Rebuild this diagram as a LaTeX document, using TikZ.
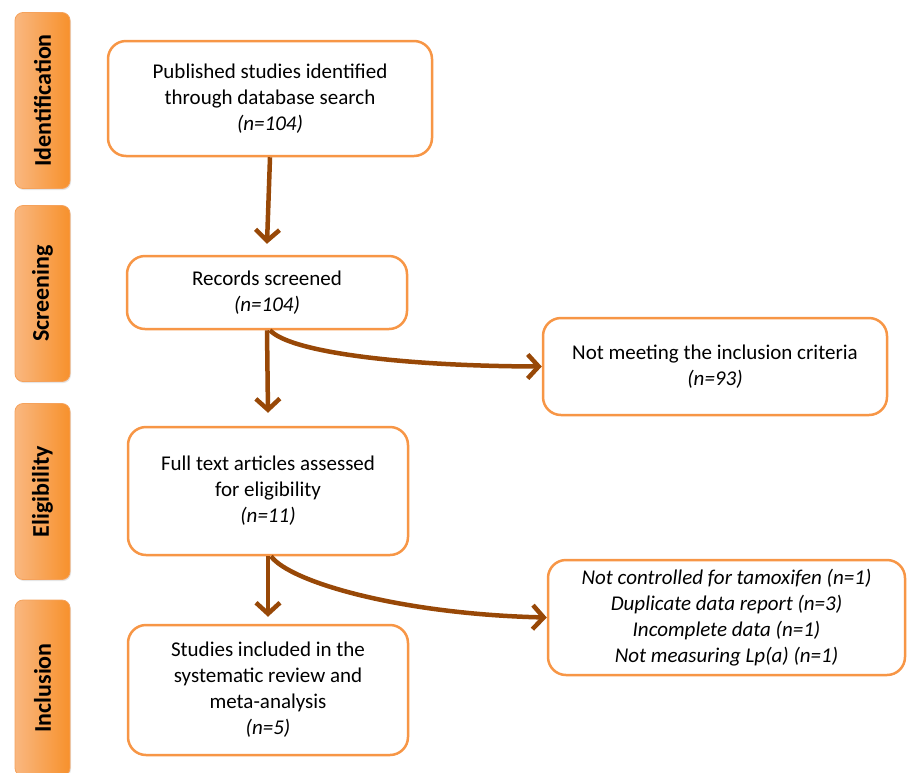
\documentclass[tikz,border=0pt]{standalone}
\usepackage{fontspec}
\setmainfont{Carlito}
\usetikzlibrary{arrows.meta,shadows}
\definecolor{boxor}{HTML}{F79646}
\definecolor{arrbr}{HTML}{984807}
\definecolor{barl}{HTML}{F9B780}
\definecolor{barr}{HTML}{F7912C}
\definecolor{barline}{HTML}{F5A25C}
\begin{document}
\begin{tikzpicture}[x=1pt,y=-1pt,
  flowbox/.style={draw=boxor, line width=2.5pt, rounded corners=18pt, fill=white,
    align=center, font=\fontsize{21}{26}\selectfont, text=black, inner sep=0pt},
  phase/.style={draw=barline, line width=0.8pt, rounded corners=8pt,
    left color=barl, right color=barr, minimum width=55pt, minimum height=176pt,
    inner sep=0pt, drop shadow={opacity=0.2, shadow xshift=1pt, shadow yshift=-1.5pt}},
  phasetext/.style={rotate=90, font=\fontsize{24}{26}\bfseries\selectfont, text=black},
  flow/.style={draw=arrbr, line width=4.5pt,
    -{Straight Barb[length=11pt,width=24pt,line width=4.5pt]}}
]
\useasboundingbox (0,0) rectangle (912,772);

% phase bars
\node[phase] (p1) at (42.5,100.5) {};
\node[phasetext] (t1) at (p1) {Identification};
\node[phase] (p2) at (42.5,293.5) {};
\node[phasetext] (t2) at (p2) {Screening};
\node[phase] (p3) at (42.5,491.5) {};
\node[phasetext] (t3) at (p3) {Eligibility};
\node[phase] (p4) at (42.5,688) {};
\node[phasetext] (t4) at (p4) {Inclusion};

% boxes
\node[flowbox, minimum width=324pt, minimum height=115pt] (b1) at (270,98.5)
  {Published studies identified\\through database search\\\textit{(n=104)}};
\node[flowbox, minimum width=280pt, minimum height=73pt] (b2) at (267,292.5)
  {Records screened\\\textit{(n=104)}};
\node[flowbox, minimum width=344pt, minimum height=97pt] (b3) at (715,366.5)
  {Not meeting the inclusion criteria\\\textit{(n=93)}};
\node[flowbox, minimum width=280pt, minimum height=128pt] (b4) at (268,491)
  {Full text articles assessed\\for eligibility\\\textit{(n=11)}};
\node[flowbox, minimum width=357pt, minimum height=115pt] (b5) at (726.5,617.5)
  {\textit{Not controlled for tamoxifen (n=1)}\\\textit{Duplicate data report (n=3)}\\\textit{Incomplete data (n=1)}\\\textit{Not measuring Lp(a) (n=1)}};
\node[flowbox, minimum width=280pt, minimum height=130pt] (b6) at (268,690)
  {Studies included in the\\systematic review and\\meta-analysis\\\textit{(n=5)}};

% connectors
\draw[flow] (b1.south) -- ([yshift=11pt]b2.north);
\draw[flow] (b2.south) -- ([yshift=13pt]b4.north);
\draw[flow] (b4.south) -- ([yshift=7pt]b6.north);
\draw[flow] ([xshift=3pt]b2.south) .. controls (290,352) and (400,366) .. (b3.west);
\draw[flow] ([xshift=3pt]b4.south) .. controls (290,582) and (400,614) .. (b5.west);
\end{tikzpicture}
\end{document}
